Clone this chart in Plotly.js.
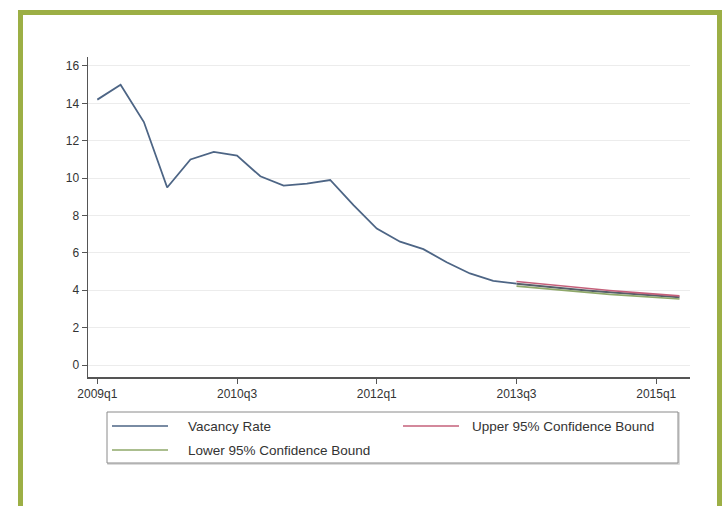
<!DOCTYPE html>
<html>
<head>
<meta charset="utf-8">
<script src="https://cdn.plot.ly/plotly-3.0.1.min.js"></script>
<style>
  html, body { margin: 0; padding: 0; background: #ffffff; }
  #wrap { position: relative; width: 726px; height: 506px; overflow: hidden; }
  #chart { position: absolute; left: 0; top: 0; width: 726px; height: 506px; }
  #frame { position: absolute; left: 18px; top: 10px; width: 694px; height: 520px;
           border: 5px solid #9caf45; box-sizing: content-box; pointer-events: none; }
</style>
</head>
<body>
<div id="wrap">
  <div id="chart"></div>
  <div id="frame"></div>
</div>
<script>
// Quarters (x categories)
const quarters = [
  "2009q1","2009q2","2009q3","2009q4",
  "2010q1","2010q2","2010q3","2010q4",
  "2011q1","2011q2","2011q3","2011q4",
  "2012q1","2012q2","2012q3","2012q4",
  "2013q1","2013q2","2013q3","2013q4",
  "2014q1","2014q2","2014q3","2014q4",
  "2015q1","2015q2"
];
const tickLabels = ["2009q1","2010q3","2012q1","2013q3","2015q1"];

// Vacancy rate, observed (2009q1–2013q3)
const vacancyQuarters = quarters.slice(0, 19);
const vacancyRate = [14.2, 15.0, 13.0, 9.5, 11.0, 11.4, 11.2, 10.1, 9.6, 9.7, 9.9,
                     8.55, 7.3, 6.6, 6.2, 5.5, 4.9, 4.5, 4.35];

// Forecast (2013q3–2015q2)
const forecastQuarters = quarters.slice(18);
const forecastRate = [4.35, 4.22, 4.10, 3.99, 3.89, 3.80, 3.71, 3.62];
const upperBound   = [4.47, 4.34, 4.21, 4.10, 3.99, 3.89, 3.80, 3.70];
const lowerBound   = [4.22, 4.10, 3.98, 3.88, 3.78, 3.70, 3.62, 3.53];

const seriesNames = ["Vacancy Rate", "Upper 95% Confidence Bound", "Lower 95% Confidence Bound"];
const colors = ["#4d6585", "#c4607a", "#8fa86a"];

const yTicks = [0, 2, 4, 6, 8, 10, 12, 14, 16];

const traces = [
  { x: vacancyQuarters, y: vacancyRate, type: "scatter", mode: "lines",
    name: seriesNames[0], line: { color: colors[0], width: 1.8 }, showlegend: false },
  { x: forecastQuarters, y: forecastRate, type: "scatter", mode: "lines",
    name: seriesNames[0] + " (forecast)", line: { color: "#55606a", width: 2 }, showlegend: false },
  { x: forecastQuarters, y: upperBound, type: "scatter", mode: "lines",
    name: seriesNames[1], line: { color: colors[1], width: 1.6 }, showlegend: false },
  { x: forecastQuarters, y: lowerBound, type: "scatter", mode: "lines",
    name: seriesNames[2], line: { color: colors[2], width: 1.6 }, showlegend: false }
];

// Manual legend (paper coordinates)
const L = 88, R = 690, T = 57, B = 377;
const px = v => (v - L) / (R - L);
const py = v => (B - v) / (B - T);

const legendRows = [
  { name: seriesNames[0], color: colors[0], sx: 112, tx: 186, y: 426 },
  { name: seriesNames[1], color: colors[1], sx: 403, tx: 470, y: 426 },
  { name: seriesNames[2], color: colors[2], sx: 112, tx: 186, y: 450 }
];

const shapes = [
  { type: "rect", xref: "paper", yref: "paper",
    x0: px(108), x1: px(679), y0: py(464), y1: py(413),
    line: { color: "#d0d0d0", width: 1.5 }, fillcolor: "rgba(0,0,0,0)" },
  { type: "rect", xref: "paper", yref: "paper",
    x0: px(107), x1: px(678), y0: py(463), y1: py(412),
    line: { color: "#8a8a8a", width: 1 }, fillcolor: "#ffffff" }
];
const annotations = [];
legendRows.forEach(r => {
  shapes.push({ type: "line", xref: "paper", yref: "paper",
    x0: px(r.sx), x1: px(r.sx + 56), y0: py(r.y), y1: py(r.y),
    line: { color: r.color, width: 1.6 } });
  annotations.push({ xref: "paper", yref: "paper", x: px(r.tx), y: py(r.y),
    xanchor: "left", yanchor: "middle", showarrow: false, text: r.name,
    font: { family: "Liberation Sans, Arial, sans-serif", size: 13.5, color: "#333333" } });
});

const layout = {
  width: 726, height: 506,
  margin: { l: L, r: 726 - R, t: T, b: 506 - B, pad: 0 },
  paper_bgcolor: "#ffffff", plot_bgcolor: "#ffffff",
  showlegend: false,
  font: { family: "Liberation Sans, Arial, sans-serif", size: 12, color: "#333333" },
  xaxis: {
    type: "category", categoryorder: "array", categoryarray: quarters,
    range: [-0.4, 25.45],
    tickmode: "array", tickvals: tickLabels, ticktext: tickLabels,
    showgrid: false, zeroline: false,
    showline: true, linecolor: "#555555", linewidth: 1.5,
    ticks: "outside", ticklen: 5, tickcolor: "#555555", tickwidth: 1,
    tickfont: { size: 12, color: "#333333" }
  },
  yaxis: {
    range: [-0.64, 16.48],
    tickmode: "array", tickvals: yTicks,
    showgrid: true, gridcolor: "#ececec", gridwidth: 1,
    zeroline: false,
    showline: true, linecolor: "#555555", linewidth: 1.5,
    ticks: "outside", ticklen: 5, tickcolor: "#555555", tickwidth: 1,
    tickfont: { size: 12, color: "#333333" }
  },
  shapes: shapes,
  annotations: annotations
};

Plotly.newPlot("chart", traces, layout, { staticPlot: true, displayModeBar: false });
</script>
</body>
</html>
